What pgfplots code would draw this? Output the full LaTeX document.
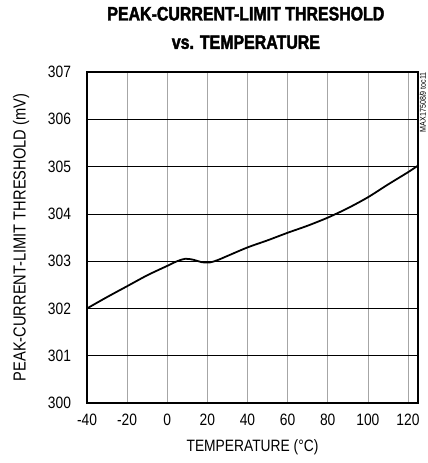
\documentclass[border=0pt]{standalone}
\usepackage{fontspec}
\setmainfont{Liberation Sans}[FakeStretch=0.84]
\newfontfamily\titlefont{Liberation Sans Bold}[FakeStretch=0.82,FakeBold=2]
\usepackage{pgfplots}
\pgfplotsset{compat=1.18}

\begin{document}
\begin{tikzpicture}
\begin{axis}[
    at={(87bp,60bp)}, anchor=south west,
    scale only axis,
    width=331bp, height=331bp,
    xmin=-40, xmax=125,
    ymin=300, ymax=307,
    xtick={-40,-20,0,20,40,60,80,100,120},
    xticklabels={-40,-20,0,20,40,60,80,100,120},
    ytick={300,301,...,307},
    yticklabels={300,301,302,303,304,305,306,307},
    major tick length=0pt,
    grid=major,
    x grid style={gray!70, line width=0.7pt},
    y grid style={black, line width=0.55pt},
    axis line style={line width=2.2pt},
    tick label style={font=\fontsize{16.5}{18}\selectfont},
    xticklabel style={yshift=-8bp},
    yticklabel style={xshift=-12.5bp},
    xlabel={TEMPERATURE (°C)},
    ylabel={PEAK-CURRENT-LIMIT THRESHOLD (mV)},
    label style={font=\fontsize{16.5}{18}\selectfont},
    xlabel style={at={(axis description cs:0.5,-0.1329)}, anchor=center},
    ylabel style={at={(axis description cs:-0.1994,0.5)}, anchor=center, font=\fontsize{17.5}{18}\selectfont},
    title={PEAK-CURRENT-LIMIT THRESHOLD\\vs. TEMPERATURE},
    title style={at={(axis description cs:0.48,1.115)}, anchor=center, align=center,
        font=\titlefont\fontsize{19.5}{28.5}\selectfont},
    clip=false,
]
\addplot[black, line width=1.8pt, smooth, tension=0.5] coordinates {
    (-40,302.00) (-30,302.24) (-20,302.47) (-10,302.70) (0,302.90)
    (5,303.00) (9,303.05) (13,303.03) (17,302.98) (21,302.97)
    (25,303.02) (30,303.11) (40,303.29) (50,303.44) (60,303.60)
    (70,303.75) (80,303.92) (90,304.12) (100,304.35) (110,304.62)
    (120,304.88) (125,305.02)
};
\node[rotate=90, anchor=north east, font=\fontsize{8.5}{9}\selectfont, inner sep=0pt]
    at (rel axis cs:1,1) [yshift=-1.5bp] {MAX17508/9 toc11};
\end{axis}
\pgfresetboundingbox
\path (0bp,0bp) rectangle (428bp,463bp);
\end{tikzpicture}
\end{document}
